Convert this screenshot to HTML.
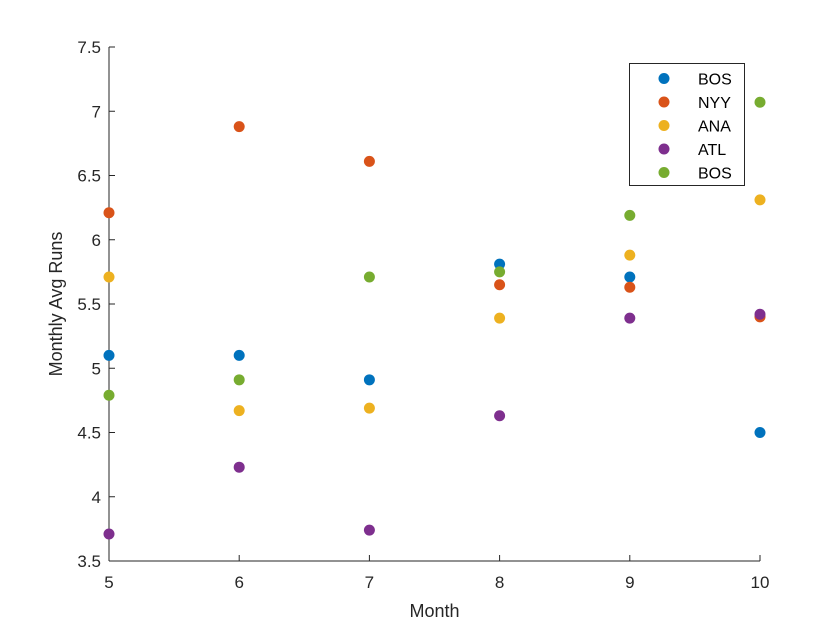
<!DOCTYPE html>
<html><head><meta charset="utf-8"><style>
body{margin:0;background:#fff;}
svg{display:block;font-family:"Liberation Sans",Arial,sans-serif;}
</style></head><body>
<svg id="chart" width="840" height="630" viewBox="0 0 840 630">
<rect width="840" height="630" fill="#fff"/>
<g id="axes"></g>
<g id="marks"></g>
<g id="legend"></g>
</svg>
<script>
const months = [5, 6, 7, 8, 9, 10];
const seriesNames = ["BOS", "NYY", "ANA", "ATL", "BOS"];
const bosValues = [5.10, 5.10, 4.91, 5.81, 5.71, 4.50];
const nyyValues = [6.21, 6.88, 6.61, 5.65, 5.63, 5.40];
const anaValues = [5.71, 4.67, 4.69, 5.39, 5.88, 6.31];
const atlValues = [3.71, 4.23, 3.74, 4.63, 5.39, 5.42];
const bos2Values = [4.79, 4.91, 5.71, 5.75, 6.19, 7.07];
const xTicks = [5, 6, 7, 8, 9, 10];
const yTicks = [3.5, 4, 4.5, 5, 5.5, 6, 6.5, 7, 7.5];
const yTickLabels = ["3.5","4","4.5","5","5.5","6","6.5","7","7.5"];

const allSeries = [bosValues, nyyValues, anaValues, atlValues, bos2Values];
const colors = ["#0072BD","#D95319","#EDB120","#7E2F8E","#77AC30"];
const L=109,R=760,T=47,B=561;
const xs = v => L + (v-5)/(10-5)*(R-L);
const ys = v => B - (v-3.5)/(7.5-3.5)*(B-T);
const NS="http://www.w3.org/2000/svg";
function mk(tag, attrs, parent, text){
  const e=document.createElementNS(NS,tag);
  for(const k in attrs) e.setAttribute(k,attrs[k]);
  if(text!==undefined) e.textContent=text;
  parent.appendChild(e); return e;
}
const ax=document.getElementById('axes');
let e;
e=mk('line',{x1:L,y1:B,x2:R,y2:B,stroke:'#262626','stroke-width':1},ax);


e=mk('line',{x1:L,y1:T,x2:L,y2:B,stroke:'#262626','stroke-width':1},ax);


xTicks.forEach(t=>{
  e=mk('line',{x1:xs(t),y1:B,x2:xs(t),y2:B-6,stroke:'#262626'},ax);
  
  
  e=mk('text',{x:xs(t),y:B+27,'text-anchor':'middle','font-size':17,fill:'#262626'},ax,String(t));
  
  
});
yTicks.forEach((t,i)=>{
  e=mk('line',{x1:L,y1:ys(t),x2:L+6,y2:ys(t),stroke:'#262626'},ax);
  
  
  e=mk('text',{x:L-8,y:ys(t)+6,'text-anchor':'end','font-size':17,fill:'#262626'},ax,yTickLabels[i]);
  
  
});
e=mk('text',{x:(L+R)/2,y:617,'text-anchor':'middle','font-size':18,fill:'#262626'},ax,'Month');


e=mk('text',{x:0,y:0,transform:'translate(62,304) rotate(-90)','text-anchor':'middle','font-size':18,fill:'#262626'},ax,'Monthly Avg Runs');



const mg=document.getElementById('marks');
allSeries.forEach((vals,si)=>{
  vals.forEach((v,i)=>{
    e=mk('circle',{cx:xs(months[i]),cy:ys(v),r:5.5,fill:colors[si]},mg);
    
    
  });
});

const lg=document.getElementById('legend');
e=mk('rect',{x:629.5,y:63.5,width:115,height:122,fill:'#fff',stroke:'#262626','stroke-width':1},lg);


seriesNames.forEach((n,i)=>{
  const y=78.5+i*23.5;
  e=mk('circle',{cx:664,cy:y,r:5.5,fill:colors[i]},lg);
  
  
  e=mk('text',{x:698,y:y+6,'font-size':16,fill:'#000'},lg,n);
  
  
});
</script>
</body></html>
